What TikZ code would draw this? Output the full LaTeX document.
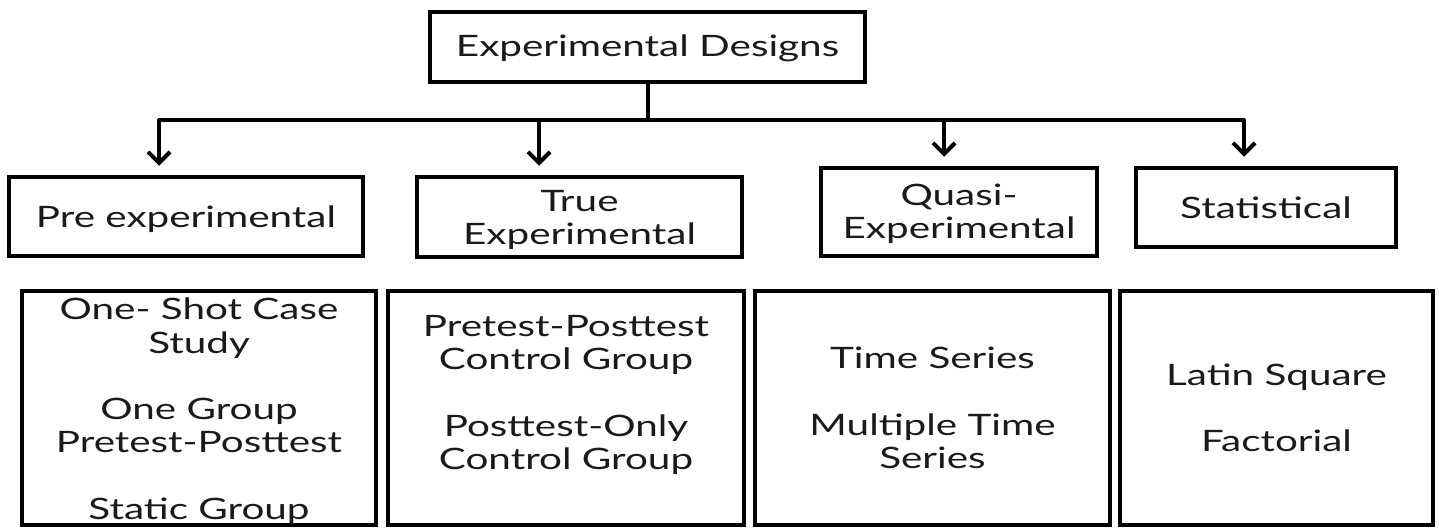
\documentclass[tikz,border=0pt]{standalone}
\usepackage{fontspec}
\setmainfont{Lato}
\usepackage{graphicx}
\usetikzlibrary{arrows.meta}
\definecolor{ink}{HTML}{1A1A1A}
\newcommand\stx[1]{\scalebox{1.37}[1]{\begin{tabular}{@{}c@{}}#1\end{tabular}}}
\begin{document}
\begin{tikzpicture}[x=1pt,y=1pt,
  box/.style={draw=black, line width=4.5pt, rectangle, inner sep=0pt},
  txt/.style={inner sep=0pt, text=ink, font=\fontsize{29.5}{33.3}\selectfont},
  conn/.style={draw=black, line width=4pt, line join=round},
  arr/.style={conn, -{Straight Barb[length=11pt,width=22pt,line width=4pt]}, shorten >=9pt}]
\useasboundingbox (0,0) rectangle (1439,-527);
\fill[white] (0,0) rectangle (1439,-527);
% level 0
\node[box, minimum width=435pt, minimum height=70pt] (top) at (647.5,-47) {};
\node[txt] (topt) at ([yshift=-3pt]top.center) {\stx{Experimental Designs}};
% level 1
\node[box, minimum width=354pt, minimum height=79pt] (pre) at (186,-216.5) {};
\node[box, minimum width=325pt, minimum height=80pt] (true) at (579.5,-217) {};
\node[box, minimum width=276pt, minimum height=88pt] (quasi) at (959,-212) {};
\node[box, minimum width=260pt, minimum height=79pt] (stat) at (1266,-207.5) {};
\node[txt] (pret) at ([yshift=-4pt]pre.center) {\stx{Pre experimental}};
\node[txt] (truet) at ([yshift=-4pt]true.center) {\stx{True\\Experimental}};
\node[txt] (quasit) at ([yshift=-3pt]quasi.center) {\stx{Quasi-\\Experimental}};
\node[txt] (statt) at ([yshift=-4pt]stat.center) {\stx{Statistical}};
% level 2
\node[box, minimum width=354pt, minimum height=234pt] (b1) at (199,-408) {};
\node[box, minimum width=356pt, minimum height=234pt] (b2) at (566,-408) {};
\node[box, minimum width=355pt, minimum height=234pt] (b3) at (932.5,-408) {};
\node[box, minimum width=313pt, minimum height=234pt] (b4) at (1276.5,-408) {};
\node[txt] (b1t) at ([yshift=-5pt]b1.center) {\stx{One- Shot Case\\Study\\ \\One Group\\Pretest-Posttest\\ \\Static Group}};
\node[txt] (b2t) at ([yshift=-5pt]b2.center) {\stx{Pretest-Posttest\\Control Group\\ \\Posttest-Only\\Control Group\\ \\ }};
\node[txt] (b3t) at ([yshift=-4pt]b3.center) {\stx{Time Series\\ \\Multiple Time\\Series}};
\node[txt] (b4t) at ([yshift=-4pt]b4.center) {\stx{Latin Square\\ \\Factorial}};
% connectors
\coordinate (bus) at (647.5,-120);
\draw[conn] (top.south) -- (bus);
\draw[arr] (bus) -| ([xshift=-27pt]pre.north);
\draw[arr] (bus) -| ([xshift=-40.5pt]true.north);
\draw[arr] (bus) -| ([xshift=-15pt]quasi.north);
\draw[arr] (bus) -| ([xshift=-22pt]stat.north);
\end{tikzpicture}
\end{document}
